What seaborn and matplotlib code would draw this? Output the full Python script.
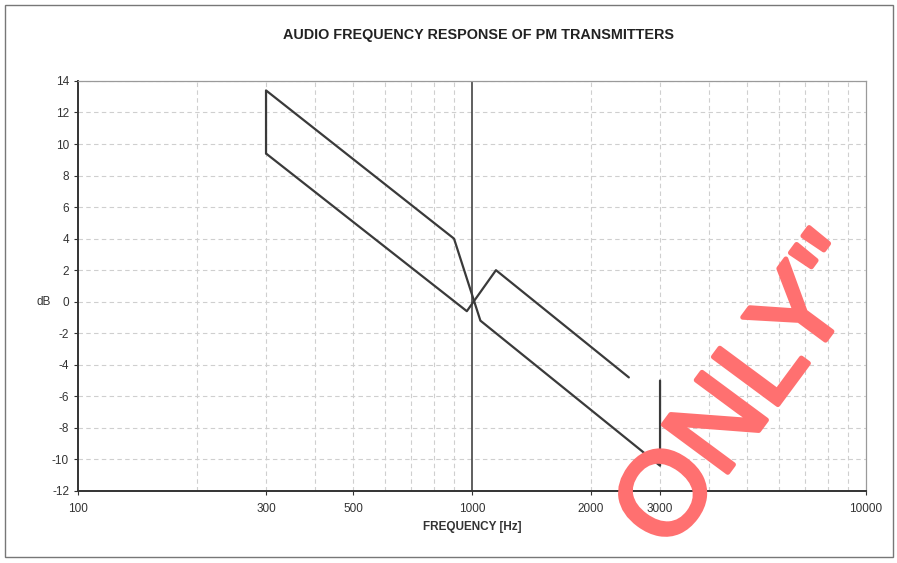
import matplotlib
matplotlib.use("Agg")
import pandas as pd
import seaborn as sns
from matplotlib import pyplot as plt
from matplotlib import patheffects
from matplotlib.patches import Rectangle
from matplotlib.ticker import NullLocator

# envelope (Hz, dB)
upper_freq = [300, 300, 900, 1050, 3000, 3000]
upper_db = [9.4, 13.4, 4.0, -1.2, -10.4, -5.0]
lower_freq = [300, 970, 1150, 2500]
lower_db = [9.4, -0.6, 2.0, -4.8]

x_ticks = [100, 300, 500, 1000, 2000, 3000, 10000]
x_labels = ["100", "300", "500", "1000", "2000", "3000", "10000"]
y_ticks = list(range(-12, 15, 2))
minor_grid = [200, 300, 400, 500, 600, 700, 800, 900,
              2000, 3000, 4000, 5000, 6000, 7000, 8000, 9000]

upper = pd.DataFrame({"freq": upper_freq, "db": upper_db})
lower = pd.DataFrame({"freq": lower_freq, "db": lower_db})

sns.set_style("white")
plt.rcParams["font.family"] = ["Liberation Sans", "DejaVu Sans"]
plt.rcParams["axes.unicode_minus"] = False

fig = plt.figure(figsize=(8.97, 5.63), dpi=100)
ax = fig.add_axes([0.087, 0.128, 0.8785, 0.7282])

line_col = "#3a3a3a"
sns.lineplot(data=upper, x="freq", y="db", sort=False, estimator=None,
             color=line_col, lw=1.6, ax=ax)
sns.lineplot(data=lower, x="freq", y="db", sort=False, estimator=None,
             color=line_col, lw=1.6, ax=ax)

ax.set_xscale("log")
ax.set_xlim(100, 10000)
ax.set_ylim(-12, 14)

# grid like the old spreadsheet print
for f in minor_grid:
    ax.axvline(f, color="#cfcfcf", lw=0.8, ls=(0, (4, 3)), zorder=0)
for v in y_ticks[1:]:
    ax.axhline(v, color="#cfcfcf", lw=0.8, ls=(0, (4, 3)), zorder=0)
ax.axvline(1000, color="#444444", lw=1.2, zorder=1)

ax.set_xticks(x_ticks)
ax.set_xticklabels(x_labels)
ax.xaxis.set_minor_locator(NullLocator())
ax.set_yticks(y_ticks)
ax.tick_params(axis="both", labelsize=8.5, colors="#333333", length=3,
               direction="out", left=True, bottom=True)
ax.tick_params(axis="x", pad=6)

for side in ["left", "bottom"]:
    ax.spines[side].set_color("#333333")
    ax.spines[side].set_linewidth(1.4)
for side in ["top", "right"]:
    ax.spines[side].set_color("#9a9a9a")
    ax.spines[side].set_linewidth(0.9)

ax.set_xlabel("FREQUENCY [Hz]", fontsize=8.5, fontweight="bold",
              color="#333333", labelpad=4)
ax.set_ylabel("")
ax.text(-0.035, 0.4615, "dB", transform=ax.transAxes, fontsize=8.5,
        color="#333333", ha="right", va="center")

fig.text(0.533, 0.938, "AUDIO FREQUENCY RESPONSE OF PM TRANSMITTERS",
         fontsize=10.4, fontweight="bold", color="#222222",
         ha="center", va="center")

# outer chart frame
fig.patches.append(Rectangle((0.006, 0.01), 0.99, 0.981,
                             transform=fig.transFigure, fill=False,
                             edgecolor="#777777", lw=1.0))

# red stamp across the lower right
stamp_col = "#ff7070"
fig.text(0.8336, 0.30, 'ONLY"', fontsize=84, color=stamp_col,
         rotation=53.5, rotation_mode="anchor", ha="center", va="center",
         zorder=10,
         path_effects=[patheffects.withStroke(linewidth=3.5,
                                              foreground=stamp_col)])

fig.savefig("out.png", dpi=100)
